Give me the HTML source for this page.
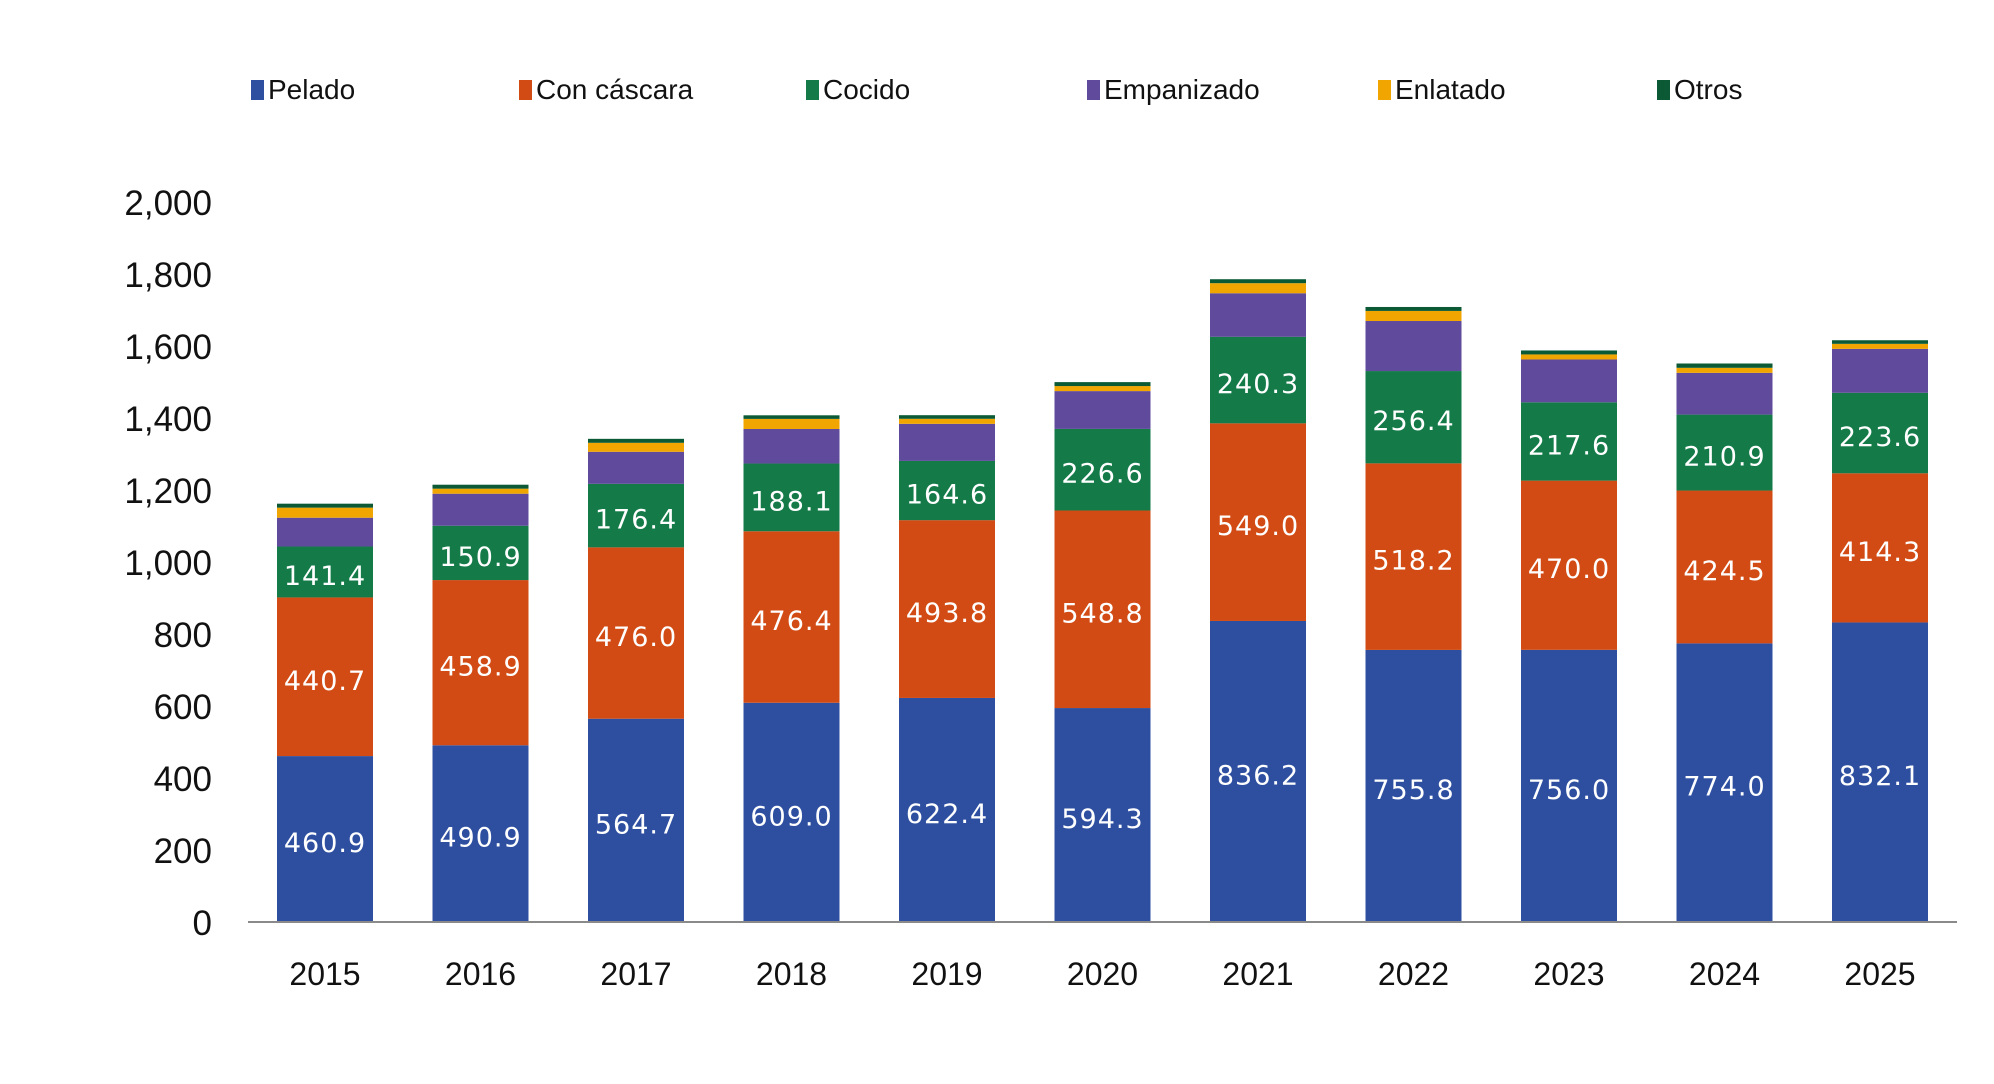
<!DOCTYPE html>
<html><head><meta charset="utf-8"><style>
body{margin:0;background:#fff;}
svg{display:block;}
</style></head><body>
<svg id="chart" width="1994" height="1084" viewBox="0 0 1994 1084" xmlns="http://www.w3.org/2000/svg">
<g id="legend"></g>
<g id="yaxis"></g>
<g id="bars"></g>
<g id="xaxis"></g>
</svg>
<script>
const years = ["2015","2016","2017","2018","2019","2020","2021","2022","2023","2024","2025"];
const seriesNames = ["Pelado","Con cáscara","Cocido","Empanizado","Enlatado","Otros"];
const pelado = [460.9,490.9,564.7,609.0,622.4,594.3,836.2,755.8,756.0,774.0,832.1];
const conCascara = [440.7,458.9,476.0,476.4,493.8,548.8,549.0,518.2,470.0,424.5,414.3];
const cocido = [141.4,150.9,176.4,188.1,164.6,226.6,240.3,256.4,217.6,210.9,223.6];
const empanizado = [80,89,89,96,103,105,121,139,119,116,122];
const enlatado = [28,14,25,28,14,14,28,28,14,14,14];
const otros = [11,11,11,10,10,11,11,11,11,12,10];
const yTicks = [0,200,400,600,800,1000,1200,1400,1600,1800,2000];
const yTickLabels = ["0","200","400","600","800","1,000","1,200","1,400","1,600","1,800","2,000"];

const colors = ["#2E4FA0","#D24B14","#137A48","#5F4A9B","#F0A500","#0B5A35"];
const labeled = [true,true,true,false,false,false];
const series = [pelado,conCascara,cocido,empanizado,enlatado,otros];
const NS = "http://www.w3.org/2000/svg";
const y0 = 922, pxPer = 0.36;
function yScale(v){return y0 - v*pxPer;}
function xCenter(i){return 325 + i*155.5;}
const barW = 96;
function mk(tag, attrs, parent){const e=document.createElementNS(NS,tag);for(const k in attrs)e.setAttribute(k,attrs[k]);parent.appendChild(e);return e;}

// legend
const legendX = [251,519,806,1087,1378,1657];
const lg = document.getElementById('legend');
seriesNames.forEach((n,i)=>{
  const g = mk('g',{},lg);
  
  
  mk('rect',{x:legendX[i],y:80,width:13,height:20,fill:colors[i]},g);
  const t = mk('text',{x:legendX[i]+17,y:99,'font-family':'Liberation Sans, sans-serif','font-size':28,fill:'#111'},g);
  t.textContent = n;
});

// y axis
const ya = document.getElementById('yaxis');
yTicks.forEach((v,i)=>{
  const t = mk('text',{x:212,y:yScale(v)+13,'text-anchor':'end','font-family':'Liberation Sans, sans-serif','font-size':35,fill:'#111'},ya);
  
  
  t.textContent = yTickLabels[i];
});

// bars
const bg = document.getElementById('bars');
years.forEach((yr,i)=>{
  let cum = 0;
  series.forEach((s,k)=>{
    const v = s[i];
    const top = yScale(cum+v), bot = yScale(cum);
    const r = mk('rect',{x:xCenter(i)-barW/2,y:top,width:barW,height:bot-top,fill:colors[k]},bg);
    
    
    if(labeled[k]){
      const t = mk('text',{x:xCenter(i),y:(top+bot)/2+13,'text-anchor':'middle','font-family':'DejaVu Sans, sans-serif','font-size':27,fill:'#fff','letter-spacing':'1'},bg);
      
      
      t.textContent = v.toFixed(1);
    }
    cum += v;
  });
});

// x axis
const xa = document.getElementById('xaxis');
const ln = mk('line',{x1:248,x2:1957,y1:y0,y2:y0,stroke:'#8a8a8a','stroke-width':2},xa);


years.forEach((yr,i)=>{
  const t = mk('text',{x:xCenter(i),y:985,'text-anchor':'middle','font-family':'Liberation Sans, sans-serif','font-size':32,fill:'#111'},xa);
  
  
  t.textContent = yr;
});
</script>
</body></html>
